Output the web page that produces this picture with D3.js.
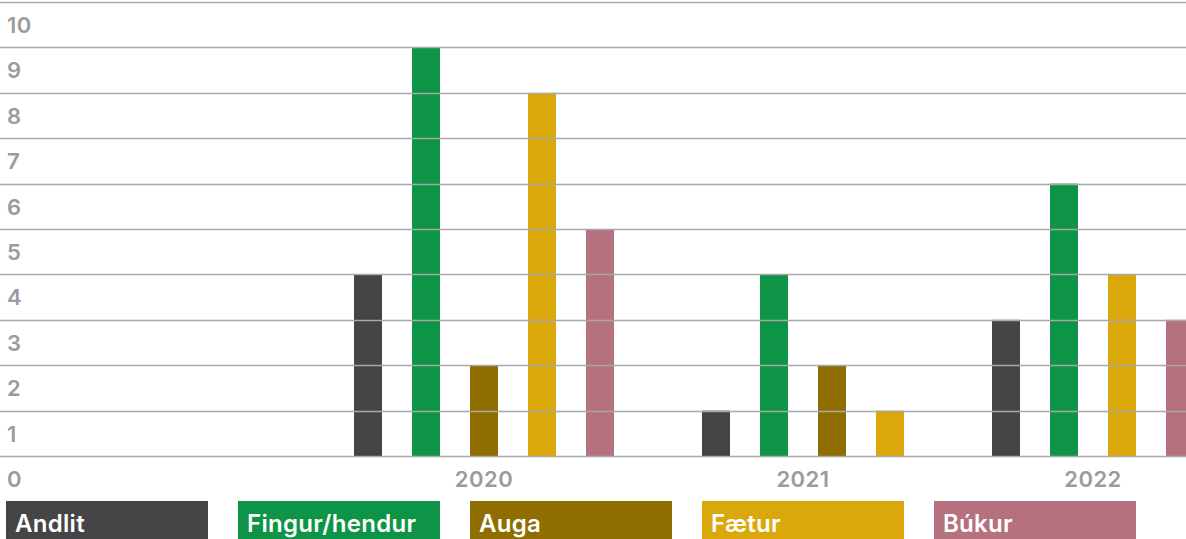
<!DOCTYPE html>
<html>
<head>
<meta charset="utf-8">
<script src="https://cdn.jsdelivr.net/npm/d3@7"></script>
<style>
  body { margin: 0; background: #fff; }
  svg { display: block; font-family: Inter, "Liberation Sans", Arial, sans-serif; }
</style>
</head>
<body>
<div id="chart"></div>
<script>
const categories = ["Andlit", "Fingur/hendur", "Auga", "Fætur", "Búkur"];
const colors = ["#454547", "#0e9446", "#8f6d00", "#dba80b", "#b5717e"];
const years = ["2020", "2021", "2022"];
// values per year, in category order
const values2020 = [4, 9, 2, 8, 5];
const values2021 = [1, 4, 2, 1, 0];
const values2022 = [3, 6, 0, 4, 3];
const yTicks = [0, 1, 2, 3, 4, 5, 6, 7, 8, 9, 10];

const width = 1186, height = 539;
const barWidth = 28;

const svg = d3.select("#chart").append("svg")
    .attr("width", width)
    .attr("height", height);

const y = d3.scaleLinear().domain([0, 10]).range([456, 2]);
// one unit = one bar slot, an empty slot between the years
const x = d3.scaleLinear().domain([0, 1]).range([354, 412]);

// flatten bars, zero values take no slot
const bars = [];
const groups = [];
let slot = 0;
[values2020, values2021, values2022].forEach((vals, gi) => {
    const start = slot;
    vals.forEach((v, ci) => {
        if (v > 0) {
            bars.push({ year: years[gi], cat: ci, value: v, slot: slot });
            slot++;
        }
    });
    groups.push({ year: years[gi], first: start, last: slot - 1 });
    slot++;
});

svg.selectAll(".bar")
    .data(bars)
    .enter()
    .append("rect")
    .attr("class", "bar")
    .attr("x", d => x(d.slot))
    .attr("y", d => y(d.value))
    .attr("width", barWidth)
    .attr("height", d => y(0) - y(d.value))
    .attr("fill", d => colors[d.cat]);

// grid lines sit on top of the bars
svg.selectAll(".grid")
    .data(yTicks)
    .enter()
    .append("line")
    .attr("class", "grid")
    .attr("x1", 0)
    .attr("x2", width)
    .attr("y1", d => Math.round(y(d)) + 0.5)
    .attr("y2", d => Math.round(y(d)) + 0.5)
    .attr("stroke", "#a8a8a8")
    .attr("stroke-width", 1.5);

svg.selectAll(".ylabel")
    .data(yTicks)
    .enter()
    .append("text")
    .attr("class", "ylabel")
    .attr("x", 7)
    .attr("y", d => y(d) + 31)
    .attr("fill", "#9b9b9d")
    .attr("font-size", "22px")
    .attr("font-weight", 600)
    .attr("letter-spacing", "0.5px")
    .text(d => d);

svg.selectAll(".xlabel")
    .data(groups)
    .enter()
    .append("text")
    .attr("class", "xlabel")
    .attr("x", d => (x(d.first) + x(d.last) + barWidth) / 2)
    .attr("y", 487)
    .attr("text-anchor", "middle")
    .attr("fill", "#9b9b9d")
    .attr("font-size", "22px")
    .attr("font-weight", 600)
    .attr("letter-spacing", "0.5px")
    .text(d => d.year);

// legend
const legend = svg.selectAll(".legend")
    .data(categories)
    .enter()
    .append("g")
    .attr("class", "legend")
    .attr("transform", (d, i) => `translate(${6 + i * 232},501)`);

legend.append("rect")
    .attr("width", 202)
    .attr("height", 40)
    .attr("fill", (d, i) => colors[i]);

legend.append("text")
    .attr("x", 9)
    .attr("y", 31)
    .attr("fill", "#fff")
    .attr("font-size", "24px")
    .attr("font-weight", 600)
    .attr("letter-spacing", "0.3px")
    .text(d => d);
</script>
</body>
</html>
